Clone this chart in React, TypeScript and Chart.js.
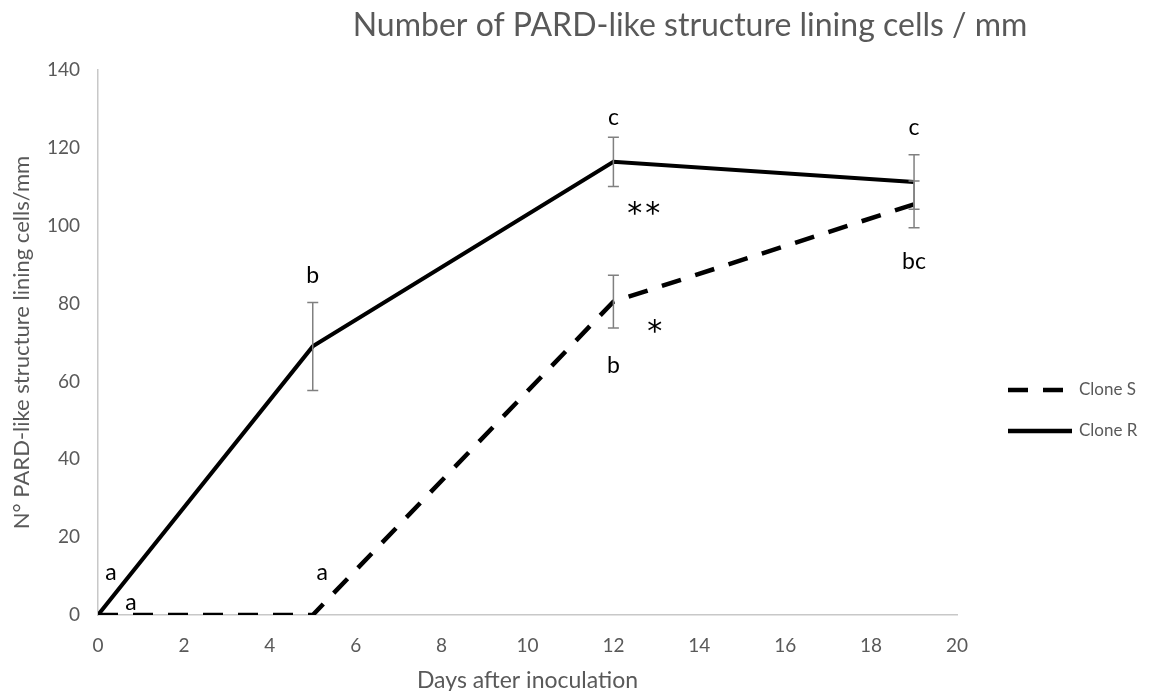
import React, { useEffect, useRef } from "react";
import { Chart, registerables } from "chart.js";

Chart.register(...registerables);

const days = [0, 5, 12, 19];
const cloneS = [0, 0, 80.5, 105.5];
const cloneSErr = [0, 0, 6.8, 6];
const cloneR = [0, 69, 116.4, 111.2];
const cloneRErr = [0, 11.3, 6.3, 7];
const xTicks = [0, 2, 4, 6, 8, 10, 12, 14, 16, 18, 20];
const yTicks = [0, 20, 40, 60, 80, 100, 120, 140];

const labelText = ["a", "a", "a", "b", "c", "**", "b", "*", "c", "bc"];
const labelX = [0.3, 0.77, 5.22, 5.0, 12.0, 12.74, 12.0, 13.0, 19.0, 19.0];
const labelY = [10.8, 3.3, 10.8, 87.1, 127.7, 104, 64.2, 73.7, 125.1, 90.7];

const seriesNames = ["Clone S", "Clone R"];
const FONT = "Lato, 'Open Sans', sans-serif";
const GRAY = "#595959";

export default function App() {
  const ref = useRef<HTMLCanvasElement | null>(null);
  useEffect(() => {
    document.body.style.margin = "0";
    const canvas = ref.current!;
    const overlay = {
      id: "overlay",
      afterDatasetsDraw(chart: any) {
        const ctx = chart.ctx;
        const xs = chart.scales.x;
        const ys = chart.scales.y;
        ctx.save();
        // error bars
        ctx.strokeStyle = "#808080";
        ctx.lineWidth = 1.5;
        const drawErr = (vals: number[], errs: number[]) => {
          vals.forEach((v, i) => {
            if (!errs[i]) return;
            const px = xs.getPixelForValue(days[i]);
            const top = ys.getPixelForValue(v + errs[i]);
            const bot = ys.getPixelForValue(v - errs[i]);
            ctx.beginPath();
            ctx.moveTo(px, top);
            ctx.lineTo(px, bot);
            ctx.moveTo(px - 5.5, top);
            ctx.lineTo(px + 5.5, top);
            ctx.moveTo(px - 5.5, bot);
            ctx.lineTo(px + 5.5, bot);
            ctx.stroke();
          });
        };
        drawErr(cloneR, cloneRErr);
        drawErr(cloneS, cloneSErr);
        // letters
        ctx.fillStyle = "#000";
        ctx.textAlign = "center";
        ctx.textBaseline = "middle";
        labelText.forEach((t, i) => {
          const star = t.includes("*");
          ctx.font = star ? `30px 'DejaVu Sans', sans-serif` : `23px ${FONT}`;
          const px = xs.getPixelForValue(labelX[i]);
          const py = ys.getPixelForValue(labelY[i]) + (star ? 5 : 0);
          if (star) {
            ctx.save();
            ctx.letterSpacing = "3px";
            ctx.fillText(t, px, py);
            ctx.restore();
          } else ctx.fillText(t, px, py);
        });
        // title
        ctx.fillStyle = GRAY;
        ctx.font = `32px ${FONT}`;
        ctx.fillText("Number of PARD-like structure lining cells / mm", 690, 26);
        // legend
        ctx.textAlign = "left";
        ctx.font = `17px ${FONT}`;
        const ly = [390, 431];
        seriesNames.forEach((n, i) => {
          ctx.strokeStyle = "#000";
          ctx.lineWidth = 4.5;
          ctx.lineCap = "butt";
          ctx.setLineDash(i === 0 ? [20, 15] : []);
          ctx.beginPath();
          ctx.moveTo(1008, ly[i]);
          ctx.lineTo(1072, ly[i]);
          ctx.stroke();
          ctx.setLineDash([]);
          ctx.fillStyle = GRAY;
          ctx.fillText(n, 1079, ly[i]);
        });
        ctx.restore();
      },
    };
    const chart = new Chart(canvas, {
      type: "line",
      data: {
        datasets: [
          {
            label: seriesNames[0],
            data: days.map((d, i) => ({ x: d, y: cloneS[i] })),
            borderColor: "#000",
            borderWidth: 4.5,
            borderDash: [20, 15],
            pointRadius: 0,
            tension: 0,
          },
          {
            label: seriesNames[1],
            data: days.map((d, i) => ({ x: d, y: cloneR[i] })),
            borderColor: "#000",
            borderWidth: 4,
            pointRadius: 0,
            tension: 0,
          },
        ],
      },
      options: {
        animation: false,
        responsive: false,
        layout: { padding: { top: 70, right: 194, left: 0, bottom: 0 } },
        plugins: { legend: { display: false }, title: { display: false }, tooltip: { enabled: false } },
        scales: {
          x: {
            type: "linear",
            min: 0,
            max: 20,
            afterBuildTicks: (s: any) => {
              s.ticks = xTicks.map((v) => ({ value: v }));
            },
            afterFit: (s: any) => {
              s.height = 76;
            },
            grid: { display: false, drawTicks: false },
            border: { display: true, color: "#c8c8c8", width: 1.5 },
            ticks: { color: GRAY, font: { size: 19, family: FONT }, padding: 19 },
            title: {
              display: true,
              text: "Days after inoculation",
              color: GRAY,
              font: { size: 23, family: FONT },
              padding: { top: 0, bottom: -3 },
            },
          },
          y: {
            type: "linear",
            min: 0,
            max: 140,
            afterBuildTicks: (s: any) => {
              s.ticks = yTicks.map((v) => ({ value: v }));
            },
            afterFit: (s: any) => {
              s.width = 98;
            },
            grid: { display: false, drawTicks: false },
            border: { display: true, color: "#c8c8c8", width: 1.5 },
            ticks: { color: GRAY, font: { size: 19, family: FONT }, padding: 18 },
            title: {
              display: true,
              text: "N° PARD-like structure lining cells/mm",
              color: GRAY,
              font: { size: 22, family: FONT },
              padding: { top: 9, bottom: 0 },
            },
          },
        },
      },
      plugins: [overlay],
    });
    return () => chart.destroy();
  }, []);
  return (
    <div style={{ width: 1151, height: 691 }}>
      <canvas ref={ref} width={1151} height={691} />
    </div>
  );
}
